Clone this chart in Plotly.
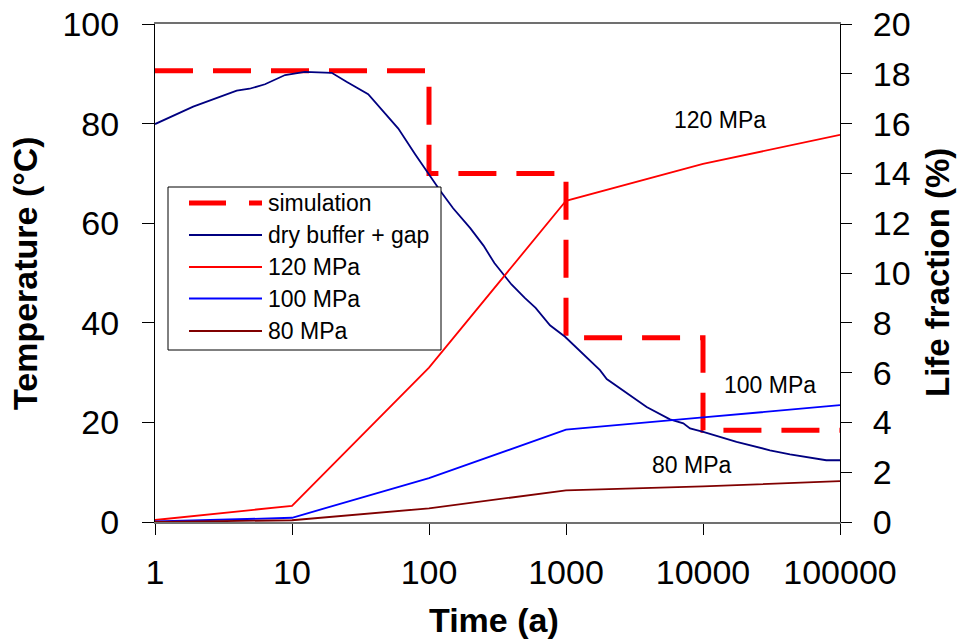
import plotly.graph_objects as go

# ---------------- data ----------------
time_sim = [1, 100, 1000, 10000, 100000]
temp_sim = [90.6, 70.0, 37.0, 18.4, 18.4]

time_dry = [1, 1.9, 3.95, 4.9, 6.35, 8.9, 12.4, 19.5, 25, 36, 59.7, 79, 120, 150, 200,
            250, 300, 400, 500, 600, 764, 984, 1770, 1983, 3880, 5740, 7180, 8040,
            10040, 17580, 30800, 43150, 79400, 100000]
temp_dry = [79.9, 83.4, 86.6, 87.0, 87.9, 89.75, 90.4, 90.2, 88.4, 85.9, 79.0, 73.9, 66.6,
            63.0, 59.0, 55.5, 52.0, 47.7, 45.0, 43.0, 39.5, 37.2, 30.5, 28.7, 23.1, 20.6,
            19.8, 18.8, 18.1, 16.1, 14.4, 13.6, 12.4, 12.4]

time_mpa = [1, 10, 100, 1000, 10000, 100000]
life_120 = [0.08, 0.65, 6.2, 12.9, 14.38, 15.55]
life_100 = [0.02, 0.17, 1.76, 3.71, 4.2, 4.69]
life_80 = [0.0, 0.07, 0.55, 1.27, 1.43, 1.64]

x_tickvals = [1, 10, 100, 1000, 10000, 100000]
x_ticktext = ["1", "10", "100", "1000", "10000", "100000"]

legend_names = ["simulation", "dry buffer + gap", "120 MPa", "100 MPa", "80 MPa"]
legend_colors = ["#FF0000", "#000080", "#FF0000", "#0000FF", "#800000"]

# ---------------- layout geometry ----------------
W, H = 957, 639
ML, MR, MT, MB = 155, 117, 24, 117
PW, PH = W - ML - MR, H - MT - MB
FONT = "Arial, Liberation Sans, sans-serif"


def px(xp):
    return (xp - ML) / PW


def py(yp):
    return (H - MB - yp) / PH


fig = go.Figure()

fig.add_trace(go.Scatter(x=time_sim, y=temp_sim, mode="lines", line_shape="hv",
                         line=dict(color="#FF0000", width=5, dash="38px,20px"),
                         name="simulation", showlegend=False, yaxis="y"))
fig.add_trace(go.Scatter(x=time_dry, y=temp_dry, mode="lines",
                         line=dict(color="#000080", width=1.8),
                         name="dry buffer + gap", showlegend=False, yaxis="y"))
fig.add_trace(go.Scatter(x=time_mpa, y=life_120, mode="lines",
                         line=dict(color="#FF0000", width=1.8),
                         name="120 MPa", showlegend=False, yaxis="y2"))
fig.add_trace(go.Scatter(x=time_mpa, y=life_100, mode="lines",
                         line=dict(color="#0000FF", width=1.8),
                         name="100 MPa", showlegend=False, yaxis="y2"))
fig.add_trace(go.Scatter(x=time_mpa, y=life_80, mode="lines",
                         line=dict(color="#800000", width=1.8),
                         name="80 MPa", showlegend=False, yaxis="y2"))

shapes = []
annotations = []

# manual legend
shapes.append(dict(type="rect", xref="paper", yref="paper",
                   x0=px(168), x1=px(441), y0=py(187), y1=py(350),
                   line=dict(color="black", width=1), fillcolor="white", layer="above"))
row_y = [203, 235, 267, 298.5, 331]
for i, (name, col) in enumerate(zip(legend_names, legend_colors)):
    if i == 0:
        line = dict(color=col, width=5, dash="37px,23px")
    else:
        line = dict(color=col, width=2)
    shapes.append(dict(type="line", xref="paper", yref="paper",
                       x0=px(189), x1=px(262), y0=py(row_y[i]), y1=py(row_y[i]),
                       line=line, layer="above"))
    annotations.append(dict(xref="paper", yref="paper", x=px(266), y=py(row_y[i]),
                            text=name, showarrow=False, xanchor="left", yanchor="middle",
                            font=dict(family=FONT, size=23, color="black")))

# series labels
annotations.append(dict(xref="x", yref="y", x=4.124, y=80.7, text="120 MPa", showarrow=False,
                        font=dict(family=FONT, size=23, color="black")))
annotations.append(dict(xref="x", yref="y", x=4.49, y=27.5, text="100 MPa", showarrow=False,
                        font=dict(family=FONT, size=23, color="black")))
annotations.append(dict(xref="x", yref="y", x=3.916, y=11.45, text="80 MPa", showarrow=False,
                        font=dict(family=FONT, size=23, color="black")))

# axis titles
annotations.append(dict(xref="paper", yref="paper", x=px(494), y=py(620), text="<b>Time (a)</b>",
                        showarrow=False, xanchor="center", yanchor="middle",
                        font=dict(family=FONT, size=34, color="black")))
annotations.append(dict(xref="paper", yref="paper", x=px(25), y=py(273),
                        text="<b>Temperature (°C)</b>", textangle=-90,
                        showarrow=False, xanchor="center", yanchor="middle",
                        font=dict(family=FONT, size=34, color="black")))
annotations.append(dict(xref="paper", yref="paper", x=px(937), y=py(273),
                        text="<b>Life fraction (%)</b>", textangle=-90,
                        showarrow=False, xanchor="center", yanchor="middle",
                        font=dict(family=FONT, size=33, color="black")))

fig.update_layout(
    width=W, height=H,
    margin=dict(l=ML, r=MR, t=MT, b=MB, pad=0, autoexpand=False),
    paper_bgcolor="white", plot_bgcolor="white",
    showlegend=False,
    font=dict(family=FONT, color="black"),
    xaxis=dict(type="log", range=[0, 5], tickmode="array", tickvals=x_tickvals,
               ticktext=x_ticktext, ticks="outside", ticklen=11, tickcolor="black",
               tickwidth=1, showgrid=False, zeroline=False, showline=True,
               linecolor="#707070", linewidth=2, mirror=True, automargin=False,
               tickfont=dict(family=FONT, size=34, color="black"),
               ticklabelstandoff=8),
    yaxis=dict(range=[0, 100], tickmode="array", tickvals=[0, 20, 40, 60, 80, 100],
               ticks="outside", ticklen=12, tickcolor="black", tickwidth=1,
               showgrid=False, zeroline=False, showline=True, linecolor="black",
               linewidth=1, automargin=False,
               tickfont=dict(family=FONT, size=34, color="black"),
               ticklabelstandoff=16),
    yaxis2=dict(range=[0, 20], overlaying="y", side="right", tickmode="array",
                tickvals=list(range(0, 21, 2)), ticks="outside", ticklen=11,
                tickcolor="black", tickwidth=1, showgrid=False, zeroline=False,
                showline=True, linecolor="black", linewidth=1, automargin=False,
                tickfont=dict(family=FONT, size=34, color="black"),
                ticklabelstandoff=14),
    yaxis3=dict(range=[0, 20], overlaying="y", side="right", tickmode="array",
                tickvals=list(range(0, 21, 2)), ticks="inside", ticklen=12,
                tickcolor="black", tickwidth=1, showgrid=False, zeroline=False,
                showline=False, showticklabels=False, automargin=False),
    shapes=shapes,
    annotations=annotations,
)

fig.write_html("out.html")
